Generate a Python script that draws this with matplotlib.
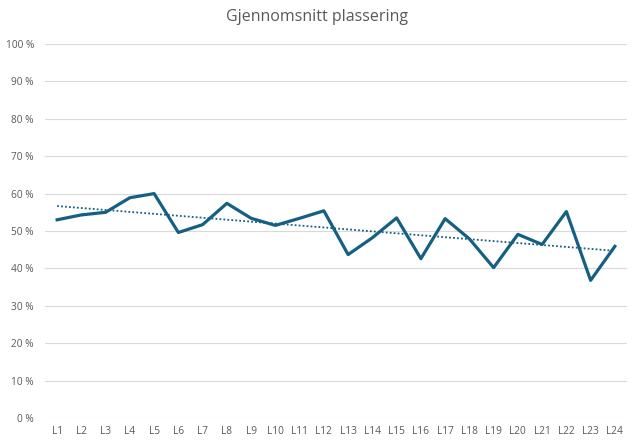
import numpy as np
import matplotlib
matplotlib.use("Agg")
import matplotlib.pyplot as plt
from matplotlib.ticker import FuncFormatter

# ================================
# data
# ================================
TITLE = "Gjennomsnitt plassering"
labels = [f"L{i}" for i in range(1, 25)]
values = [53.0, 54.3, 55.0, 58.9, 60.0, 49.6, 51.7, 57.4, 53.4, 51.5, 53.4, 55.4,
          43.7, 48.2, 53.5, 42.6, 53.3, 47.9, 40.2, 49.1, 46.4, 55.2, 36.8, 45.9]

LINE_COLOR = "#156082"
TEXT_COLOR = "#595959"
GRID_COLOR = "#D9D9D9"

plt.rcParams["font.family"] = ["Open Sans", "DejaVu Sans"]

fig = plt.figure(figsize=(6.34, 4.46), dpi=100)
ax = fig.add_axes([45 / 634, 28 / 446, 582 / 634, 374 / 446])

x = np.arange(len(labels))
y = np.array(values) / 100

ax.plot(x, y, color=LINE_COLOR, linewidth=2.3, solid_joinstyle="round", zorder=3)

# lineær trendlinje
k, m = np.polyfit(x, y, 1)
ax.plot(x, k * x + m, color=LINE_COLOR, linewidth=1.3, linestyle=(0, (1, 1.2)), zorder=2)

ax.set_xlim(-0.5, len(labels) - 0.5)
ax.set_ylim(0, 1)
ax.set_yticks(np.arange(0, 1.01, 0.1))
ax.yaxis.set_major_formatter(FuncFormatter(lambda v, _: f"{v * 100:.0f} %"))
ax.set_xticks(x)
ax.set_xticklabels(labels)

ax.grid(axis="y", color=GRID_COLOR, linewidth=0.8)
ax.set_axisbelow(True)
for s in ax.spines.values():
    s.set_visible(False)
ax.tick_params(axis="both", length=0, colors=TEXT_COLOR, labelsize=7.3)
ax.tick_params(axis="y", pad=8)
ax.tick_params(axis="x", pad=6)

fig.text(0.5, 1 - 17 / 446, TITLE, ha="center", va="center", fontsize=11.5, color=TEXT_COLOR)

fig.savefig("out.png", dpi=100)
